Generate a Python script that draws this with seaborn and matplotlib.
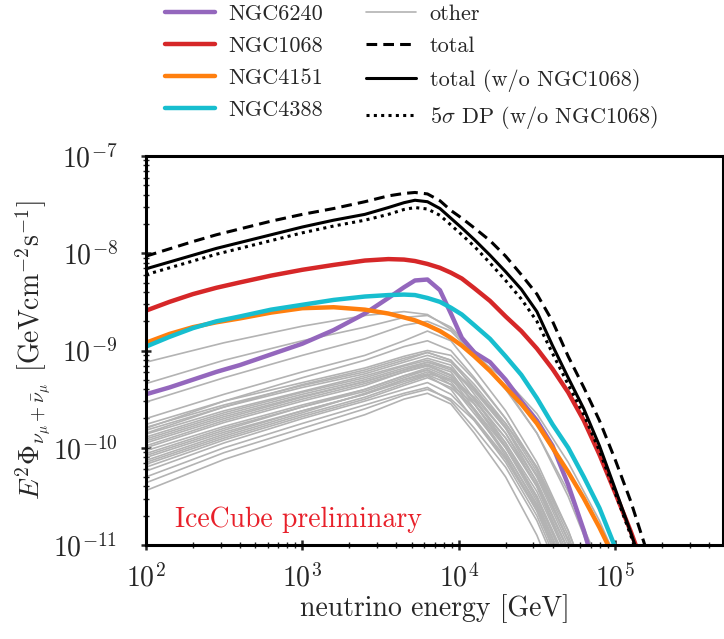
import numpy as np
import pandas as pd
import matplotlib
matplotlib.use("Agg")
import matplotlib.pyplot as plt
from matplotlib.lines import Line2D
import seaborn as sns

sns.set_style("white")
plt.rcParams["font.family"] = ["cmr10", "DejaVu Sans"]
plt.rcParams["mathtext.fontset"] = "cm"
plt.rcParams["axes.formatter.use_mathtext"] = True

# === Data (log10 values) ===
# energy grid for the named sources / totals (log10 GeV)
log_e_src = [2.0, 2.15, 2.3, 2.45, 2.6, 2.8, 3.0, 3.2, 3.4, 3.55, 3.65, 3.72, 3.8,
             3.88, 3.95, 4.02, 4.1, 4.2, 4.3, 4.4, 4.5, 4.6, 4.7, 4.8, 4.9, 5.0,
             5.1, 5.2, 5.3]

ngc6240 = [-9.45, -9.38, -9.30, -9.22, -9.15, -9.04, -8.93, -8.79, -8.62, -8.46,
           -8.35, -8.28, -8.27, -8.38, -8.62, -8.87, -9.02, -9.12, -9.30, -9.52,
           -9.72, -9.98, -10.38, -10.85, -11.4, -12.0, -12.0, -12.0, -12.0]
ngc1068 = [-8.59, -8.50, -8.42, -8.355, -8.30, -8.23, -8.17, -8.12, -8.075, -8.06,
           -8.065, -8.08, -8.11, -8.15, -8.20, -8.26, -8.36, -8.49, -8.65, -8.80,
           -8.98, -9.19, -9.43, -9.72, -10.07, -10.46, -10.86, -11.3, -11.8]
ngc4151 = [-8.92, -8.83, -8.76, -8.71, -8.67, -8.61, -8.565, -8.555, -8.58, -8.62,
           -8.66, -8.69, -8.74, -8.80, -8.87, -8.95, -9.06, -9.21, -9.38, -9.55,
           -9.75, -10.00, -10.25, -10.52, -10.82, -11.15, -11.6, -12.0, -12.0]
ngc4388 = [-8.96, -8.86, -8.77, -8.70, -8.65, -8.58, -8.53, -8.48, -8.445, -8.43,
           -8.425, -8.43, -8.46, -8.50, -8.56, -8.63, -8.74, -8.88, -9.06, -9.25,
           -9.49, -9.76, -10.00, -10.30, -10.62, -11.02, -11.5, -12.0, -12.0]
total = [-8.03, -7.955, -7.88, -7.81, -7.75, -7.67, -7.60, -7.54, -7.47, -7.41,
         -7.385, -7.375, -7.39, -7.46, -7.56, -7.64, -7.74, -7.87, -8.03, -8.22,
         -8.42, -8.70, -9.06, -9.38, -9.72, -10.12, -10.55, -11.05, -11.6]
total_wo = [-8.16, -8.09, -8.02, -7.95, -7.89, -7.81, -7.73, -7.66, -7.60, -7.53,
            -7.48, -7.455, -7.47, -7.54, -7.64, -7.74, -7.86, -8.02, -8.19, -8.37,
            -8.60, -8.95, -9.28, -9.60, -9.98, -10.42, -10.87, -11.35, -11.9]
dp_wo = [-8.22, -8.15, -8.08, -8.01, -7.95, -7.87, -7.79, -7.72, -7.66, -7.60,
         -7.55, -7.53, -7.545, -7.61, -7.71, -7.81, -7.93, -8.10, -8.28, -8.47,
         -8.70, -9.03, -9.35, -9.66, -10.03, -10.46, -10.90, -11.38, -11.9]

# energy grid for the "other" sources
log_e_other = [2.0, 2.5, 3.0, 3.4, 3.65, 3.8, 3.95, 4.1, 4.3, 4.5, 4.7, 4.9, 5.05]
others = [
    [-9.12, -8.92, -8.75, -8.64, -8.60, -8.63, -8.78, -9.02, -9.40, -9.85, -10.45, -11.2, -12],
    [-9.34, -9.10, -8.90, -8.76, -8.66, -8.64, -8.76, -9.00, -9.38, -9.85, -10.50, -11.3, -12],
    [-9.53, -9.28, -9.05, -8.88, -8.74, -8.70, -8.80, -9.05, -9.30, -9.65, -10.15, -10.75, -11.3],
    [-9.70, -9.45, -9.22, -9.05, -8.90, -8.80, -8.90, -9.20, -9.62, -10.15, -10.85, -11.7, -12],
    [-9.76, -9.52, -9.33, -9.18, -9.06, -9.00, -9.05, -9.30, -9.70, -10.20, -10.90, -11.8, -12],
    [-9.79, -9.56, -9.36, -9.22, -9.10, -9.02, -9.10, -9.40, -9.80, -10.35, -11.05, -12, -12],
    [-9.82, -9.58, -9.38, -9.24, -9.12, -9.05, -9.12, -9.38, -9.78, -10.30, -11.00, -11.9, -12],
    [-9.86, -9.62, -9.42, -9.26, -9.15, -9.08, -9.15, -9.45, -9.85, -10.40, -11.15, -12, -12],
    [-9.89, -9.64, -9.43, -9.28, -9.16, -9.10, -9.18, -9.50, -9.95, -10.50, -11.25, -12, -12],
    [-9.91, -9.66, -9.45, -9.30, -9.18, -9.12, -9.20, -9.42, -9.80, -10.28, -10.95, -11.8, -12],
    [-9.95, -9.70, -9.48, -9.32, -9.20, -9.14, -9.22, -9.55, -10.00, -10.55, -11.30, -12, -12],
    [-10.00, -9.74, -9.52, -9.36, -9.22, -9.15, -9.25, -9.50, -9.90, -10.40, -11.10, -12, -12],
    [-10.03, -9.78, -9.56, -9.40, -9.26, -9.18, -9.28, -9.60, -10.05, -10.60, -11.35, -12, -12],
    [-10.06, -9.80, -9.58, -9.42, -9.28, -9.20, -9.30, -9.48, -9.85, -10.35, -11.05, -12, -12],
    [-10.10, -9.84, -9.62, -9.45, -9.30, -9.22, -9.32, -9.62, -10.08, -10.65, -11.40, -12, -12],
    [-10.13, -9.86, -9.62, -9.45, -9.32, -9.25, -9.35, -9.55, -9.95, -10.45, -11.15, -12, -12],
    [-10.17, -9.90, -9.66, -9.48, -9.34, -9.26, -9.40, -9.72, -10.15, -10.70, -11.45, -12, -12],
    [-10.20, -9.92, -9.68, -9.50, -9.36, -9.28, -9.38, -9.60, -10.00, -10.50, -11.20, -12, -12],
    [-10.24, -9.95, -9.70, -9.52, -9.40, -9.33, -9.45, -9.70, -10.10, -10.62, -11.35, -12, -12],
    [-10.30, -10.00, -9.75, -9.56, -9.44, -9.38, -9.52, -9.80, -10.20, -10.75, -11.50, -12, -12],
    [-10.36, -10.05, -9.80, -9.60, -9.46, -9.40, -9.50, -9.72, -10.12, -10.65, -11.40, -12, -12],
    [-10.44, -10.12, -9.86, -9.66, -9.50, -9.44, -9.55, -9.85, -10.30, -10.90, -11.70, -12, -12],
    [-9.80, -9.52, -9.28, -9.10, -8.96, -8.90, -9.00, -9.28, -9.70, -10.22, -10.95, -11.9, -12],
    [-9.85, -9.58, -9.35, -9.20, -9.08, -9.02, -9.10, -9.35, -9.75, -10.25, -10.95, -11.8, -12],
    [-9.93, -9.68, -9.47, -9.32, -9.20, -9.12, -9.18, -9.40, -9.75, -10.20, -10.85, -11.7, -12],
    [-9.98, -9.72, -9.50, -9.34, -9.22, -9.16, -9.26, -9.55, -9.98, -10.52, -11.25, -12, -12],
    [-10.08, -9.82, -9.58, -9.40, -9.26, -9.20, -9.35, -9.65, -10.05, -10.58, -11.30, -12, -12],
    [-10.15, -9.88, -9.64, -9.44, -9.30, -9.24, -9.30, -9.52, -9.90, -10.38, -11.05, -12, -12],
]

src_names = ["NGC6240", "NGC1068", "NGC4151", "NGC4388"]
src_values = [ngc6240, ngc1068, ngc4151, ngc4388]
src_colors = ["#9467bd", "#d62728", "#ff7f0e", "#17becf"]
grey = "#b3b3b3"
dash = (0, (3.5, 2))
dots = (0, (1, 1.4))

# === Long-form tables ===
e_src = 10 ** np.array(log_e_src)
e_oth = 10 ** np.array(log_e_other)
df_other = pd.concat(
    [pd.DataFrame({"E": e_oth, "flux": 10 ** np.array(v), "src": i}) for i, v in enumerate(others)]
)

# === Figure ===
fig = plt.figure(figsize=(7.24, 6.39), dpi=100)
ax = fig.add_axes([146 / 724, 94 / 639, 577 / 724, 389 / 639])

sns.lineplot(data=df_other, x="E", y="flux", units="src", estimator=None,
             color=grey, lw=1.2, ax=ax, legend=False)

for name, vals, col in zip(src_names, src_values, src_colors):
    sns.lineplot(x=e_src, y=10 ** np.array(vals), color=col, lw=3.2, ax=ax)

sns.lineplot(x=e_src, y=10 ** np.array(total), color="black", lw=2.2, ls=dash, ax=ax)
sns.lineplot(x=e_src, y=10 ** np.array(total_wo), color="black", lw=2.2, ax=ax)
sns.lineplot(x=e_src, y=10 ** np.array(dp_wo), color="black", lw=2.2, ls=dots, ax=ax)

ax.set(xscale="log", yscale="log")
ax.set_xlim(1e2, 4.9e5)
ax.set_ylim(1e-11, 1e-7)

for side in ["left", "bottom", "top", "right"]:
    ax.spines[side].set_linewidth(2.2)
    ax.spines[side].set_color("black")
ax.tick_params(which="major", direction="inout", length=7, width=1.8, labelsize=20,
               bottom=True, left=True)
ax.tick_params(which="minor", direction="inout", length=4, width=1.0,
               bottom=True, left=True)
ax.tick_params(axis="x", which="major", pad=10)
ax.tick_params(axis="y", which="major", pad=17)

ax.set_xlabel("neutrino energy [GeV]", fontsize=20, labelpad=1)
ax.set_ylabel(r"$E^2\Phi_{\nu_\mu+\bar{\nu}_\mu}$ [GeVcm$^{-2}$s$^{-1}$]", fontsize=20, labelpad=0)

ax.text(0.05, 0.072, "IceCube preliminary", color="#e8202a", fontsize=20,
        transform=ax.transAxes, ha="left", va="center_baseline")

# === Legend ===
handles = [Line2D([], [], color=c, lw=3.2) for c in src_colors]
handles += [
    Line2D([], [], color=grey, lw=1.2),
    Line2D([], [], color="black", lw=2.2, ls=dash),
    Line2D([], [], color="black", lw=2.2),
    Line2D([], [], color="black", lw=2.2, ls=dots),
]
labels = src_names + ["other", "total", "total (w/o NGC1068)", r"5$\sigma$ DP (w/o NGC1068)"]
fig.legend(handles, labels, ncol=2, frameon=False, fontsize=16,
           loc="upper left", bbox_to_anchor=(145 / 724, 1.024),
           handlelength=2.25, handletextpad=0.6, columnspacing=1.95, labelspacing=0.56)

fig.savefig("out.png", dpi=100)
